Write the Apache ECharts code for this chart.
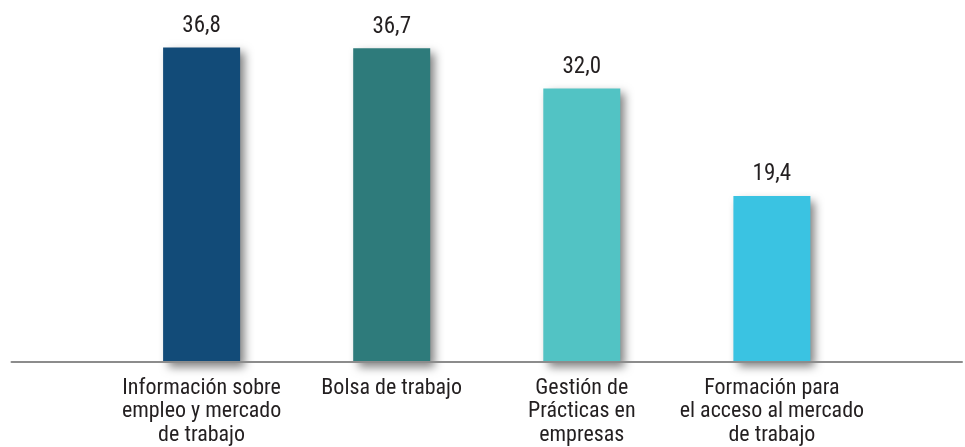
<!DOCTYPE html>
<html>
<head>
<meta charset="utf-8">
<script src="https://cdn.jsdelivr.net/npm/echarts@6/dist/echarts.min.js"></script>
<style>html,body{margin:0;padding:0;background:#fff}#c{width:965px;height:447px}</style>
</head>
<body>
<div id="c"></div>
<script>
const categories = [
  "Información sobre\nempleo y mercado\nde trabajo",
  "Bolsa de trabajo",
  "Gestión de\nPrácticas en\nempresas",
  "Formación para\nel acceso al mercado\nde trabajo"
];
const values = [36.8, 36.7, 32.0, 19.4];
const barColors = ["#124b78", "#2e7b7b", "#52c3c4", "#3ac3e2"];

const FONT = '"Roboto Condensed", "Liberation Sans Narrow", "DejaVu Sans Condensed", sans-serif';

const chart = echarts.init(document.getElementById('c'), null, {renderer: 'canvas'});
const cats = [''].concat(categories, ['']);
const data = [null].concat(values.map((v, i) => ({
  value: v,
  itemStyle: {color: barColors[i]}
})), [null]);

chart.setOption({
  animation: false,
  backgroundColor: '#ffffff',
  grid: {left: 11.5, width: 955, top: 20.1, bottom: 84.5, containLabel: false},
  xAxis: {
    type: 'category',
    data: cats,
    boundaryGap: false,
    z: 3,
    axisLine: {show: true, lineStyle: {color: '#8c8c8c', width: 2}},
    axisTick: {show: false},
    splitLine: {show: false},
    axisLabel: {
      interval: 0,
      color: '#231f20',
      fontFamily: FONT,
      fontSize: 22,
      lineHeight: 23.5,
      margin: 15
    }
  },
  yAxis: {
    type: 'value',
    min: 0,
    max: 40,
    show: false
  },
  series: [{
    type: 'bar',
    data: data,
    barWidth: 77,
    z: 2,
    itemStyle: {
      shadowColor: 'rgba(0,0,0,0.5)',
      shadowBlur: 9,
      shadowOffsetX: 5,
      shadowOffsetY: 5
    },
    label: {
      show: true,
      position: 'top',
      distance: 10,
      color: '#231f20',
      fontFamily: FONT,
      fontSize: 23,
      formatter: p => p.value == null ? '' : p.value.toFixed(1).replace('.', ',')
    }
  }]
});
</script>
</body>
</html>
